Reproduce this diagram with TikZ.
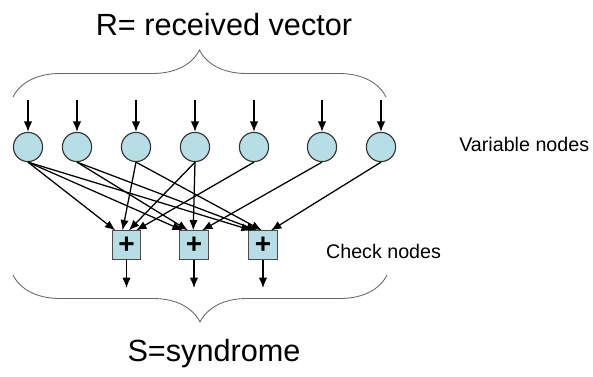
\documentclass[tikz,border=0pt]{standalone}
\usepackage{fontspec}
\setmainfont{Liberation Sans}
\usetikzlibrary{arrows.meta,decorations.pathreplacing}
\definecolor{nodeblue}{RGB}{183,222,228}

\begin{document}
\begin{tikzpicture}
[font=\fontsize{14}{16}\selectfont, line width=0.9pt, >={Latex[length=2.6mm,width=2.1mm]},
varnode/.style={circle, draw=black!80, fill=nodeblue, line width=0.8pt, inner sep=0pt, minimum size=7.3mm},
checknode/.style={rectangle, draw=black!70, fill=nodeblue, line width=0.6pt, inner sep=0pt, minimum size=7.1mm, font=\fontsize{20}{20}\selectfont\bfseries},
bracepath/.style={draw=black!60, line width=0.6pt, decorate, decoration={brace, amplitude=11.75mm}},
bigtext/.style={font=\fontsize{21.8}{24}\selectfont}]

\useasboundingbox (0,0) rectangle (14.825,9.4);

\node[bigtext] (rvec) at (5.60,8.775) {R= received vector};
\coordinate (rb0) at (0.325,6.975);
\coordinate (rb1) at (9.650,6.975);
\draw[bracepath] (rb0) -- (rb1);

\coordinate (r1) at (0.700,6.900);
\coordinate (r2) at (1.925,6.900);
\coordinate (r3) at (3.400,6.900);
\coordinate (r4) at (4.875,6.900);
\coordinate (r5) at (6.350,6.900);
\coordinate (r6) at (8.050,6.900);
\coordinate (r7) at (9.525,6.900);

\node[varnode] (v1) at (0.700,5.725) {};
\node[varnode] (v2) at (1.925,5.725) {};
\node[varnode] (v3) at (3.400,5.725) {};
\node[varnode] (v4) at (4.875,5.725) {};
\node[varnode] (v5) at (6.350,5.725) {};
\node[varnode] (v6) at (8.050,5.725) {};
\node[varnode] (v7) at (9.525,5.725) {};

\draw[->] (r1) -- (v1);
\draw[->] (r2) -- (v2);
\draw[->] (r3) -- (v3);
\draw[->] (r4) -- (v4);
\draw[->] (r5) -- (v5);
\draw[->] (r6) -- (v6);
\draw[->] (r7) -- (v7);

\node[anchor=west] (varlabel) at (11.35,5.80) {Variable nodes};

\node[checknode] (c1) at (3.163,3.275) {+};
\node[checknode] (c2) at (4.850,3.275) {+};
\node[checknode] (c3) at (6.575,3.275) {+};

\node[anchor=west] (checklabel) at (8.02,3.125) {Check nodes};

% edges of the parity check matrix
\draw[->] (v1.south) -- ([xshift=-2.8mm]c1.north);
\draw[->] (v3.south) -- ([xshift=-1.0mm]c1.north);
\draw[->] (v4.south) -- ([xshift=0.6mm]c1.north);
\draw[->] (v5.south) -- ([xshift=2.4mm]c1.north);

\draw[->] (v1.south) -- ([xshift=-2.8mm]c2.north);
\draw[->] (v2.south) -- ([xshift=-1.5mm]c2.north);
\draw[->] (v4.south) -- ([xshift=-0.2mm]c2.north);
\draw[->] (v6.south) -- ([xshift=2.0mm]c2.north);

\draw[->] (v1.south) -- ([xshift=-2.8mm]c3.north);
\draw[->] (v2.south) -- ([xshift=-1.5mm]c3.north);
\draw[->] (v3.south) -- ([xshift=-0.3mm]c3.north);
\draw[->] (v7.south) -- ([xshift=2.0mm]c3.north);

\coordinate (s1) at (3.163,2.200);
\coordinate (s2) at (4.850,2.200);
\coordinate (s3) at (6.575,2.200);
\draw[->] (c1) -- (s1);
\draw[->] (c2) -- (s2);
\draw[->] (c3) -- (s3);

\coordinate (sb0) at (9.675,2.525);
\coordinate (sb1) at (0.325,2.525);
\draw[bracepath] (sb0) -- (sb1);
\node[bigtext] (synd) at (5.35,0.55) {S=syndrome};
\end{tikzpicture}
\end{document}
